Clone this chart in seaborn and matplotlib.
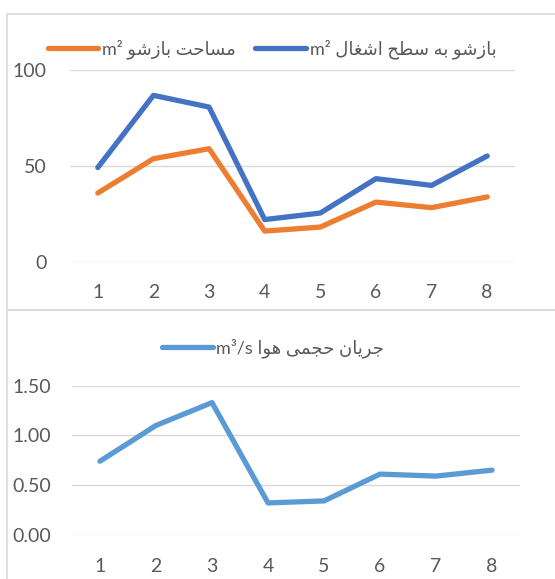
import pandas as pd
import seaborn as sns
import matplotlib.pyplot as plt
from matplotlib.patches import Rectangle

# data
points = [1, 2, 3, 4, 5, 6, 7, 8]
opening_area = [35.9, 53.8, 59.0, 16.1, 18.2, 31.2, 28.3, 33.9]
opening_ratio = [49.2, 86.8, 80.7, 22.1, 25.5, 43.4, 39.9, 55.2]
air_flow = [0.74, 1.10, 1.33, 0.32, 0.34, 0.61, 0.59, 0.65]

name_area = 'مساحت بازشو'
name_ratio = 'بازشو به سطح اشغال'
name_flow = 'جریان حجمی هوا'
unit_area = 'm²'
unit_flow = 'm³/s'

top_ticks = [0, 50, 100]
bottom_ticks = [0.0, 0.5, 1.0, 1.5]

ORANGE = '#ED7D31'
BLUE = '#4472C4'
LIGHT_BLUE = '#5B9BD5'
GRID = '#d9d9d9'
TEXT = '#595959'

# matplotlib has no arabic shaping, so pick presentation forms by hand
DUAL = {'ب': 0xFE8F, 'ت': 0xFE95, 'ج': 0xFE9D, 'ح': 0xFEA1, 'س': 0xFEB1,
        'ش': 0xFEB5, 'ط': 0xFEC1, 'غ': 0xFECD, 'ل': 0xFEDD, 'م': 0xFEE1,
        'ن': 0xFEE5, 'ه': 0xFEE9, 'ی': 0xFBFC}
RIGHT = {'ا': 0xFE8D, 'ر': 0xFEAD, 'ز': 0xFEAF, 'و': 0xFEED}


def rtl(text):
    out = []
    for i, ch in enumerate(text):
        prev = text[i - 1] if i > 0 else ''
        nxt = text[i + 1] if i + 1 < len(text) else ''
        joins_prev = prev in DUAL
        if ch in DUAL:
            joins_next = nxt in DUAL or nxt in RIGHT
            out.append(chr(DUAL[ch] + [[0, 2], [1, 3]][joins_prev][joins_next]))
        elif ch in RIGHT:
            out.append(chr(RIGHT[ch] + int(joins_prev)))
        else:
            out.append(ch)
    return ''.join(out)[::-1]


def label(name, unit):
    return unit + ' ' + rtl(name)


sns.set_theme(style='white')
plt.rcParams['font.family'] = ['Lato', 'DejaVu Sans']

W, H = 555, 579
fig = plt.figure(figsize=(W / 100, H / 100), dpi=100)

# chart frames
for y0, y1 in [(14, 310), (310, 590)]:
    fig.patches.append(Rectangle((7 / W, 1 - y1 / H), 1, (y1 - y0) / H,
                                 transform=fig.transFigure, fill=False,
                                 ec=GRID, lw=1.2))


def style_axis(ax, ticks, fmt, pad_y, pad_x):
    ax.set_xlim(0.5, 8.5)
    ax.set_ylim(ticks[0], ticks[-1])
    ax.set_xticks(points)
    ax.set_xticklabels([str(p) for p in points])
    ax.set_yticks(ticks)
    ax.set_yticklabels([fmt.format(t) for t in ticks])
    ax.set_xlabel('')
    ax.set_ylabel('')
    ax.grid(axis='y', color=GRID, lw=1)
    ax.grid(axis='x', visible=False)
    sns.despine(ax=ax, left=True, bottom=True)
    ax.tick_params(axis='y', length=0, pad=pad_y, labelsize=14, labelcolor=TEXT)
    ax.tick_params(axis='x', length=0, pad=pad_x, labelsize=14, labelcolor=TEXT)
    ax.set_facecolor('none')
    for ln in ax.lines:
        ln.set_solid_capstyle('round')
        ln.set_solid_joinstyle('round')


# top chart
ax1 = fig.add_axes([70 / W, 1 - 262 / H, 445 / W, 192 / H])
top_df = pd.DataFrame({
    'point': points * 2,
    'value': opening_area + opening_ratio,
    'series': ['area'] * len(points) + ['ratio'] * len(points),
})
sns.lineplot(data=top_df, x='point', y='value', hue='series',
             palette=[ORANGE, BLUE], lw=3.8, ax=ax1, legend=False)
style_axis(ax1, top_ticks, '{:g}', 17, 16)
fig.legend(handles=ax1.lines[:2],
           labels=[label(name_area, unit_area), label(name_ratio, unit_area)],
           loc='center', bbox_to_anchor=(272 / W, 1 - 49 / H), ncol=2,
           frameon=False, fontsize=13, handlelength=2.8, handletextpad=0.2,
           columnspacing=1.1, labelcolor=TEXT)

# bottom chart
ax2 = fig.add_axes([72 / W, 1 - 534.7 / H, 448 / W, 149 / H])
bottom_df = pd.DataFrame({'point': points, 'value': air_flow})
sns.lineplot(data=bottom_df, x='point', y='value', color=LIGHT_BLUE,
             lw=3.8, ax=ax2)
style_axis(ax2, bottom_ticks, '{:.2f}', 15, 17)
fig.legend(handles=ax2.lines[:1], labels=[label(name_flow, unit_flow)],
           loc='center', bbox_to_anchor=(273 / W, 1 - 348 / H),
           frameon=False, fontsize=13, handlelength=2.8, handletextpad=0.2,
           labelcolor=TEXT)

fig.savefig('out.png', dpi=100)
